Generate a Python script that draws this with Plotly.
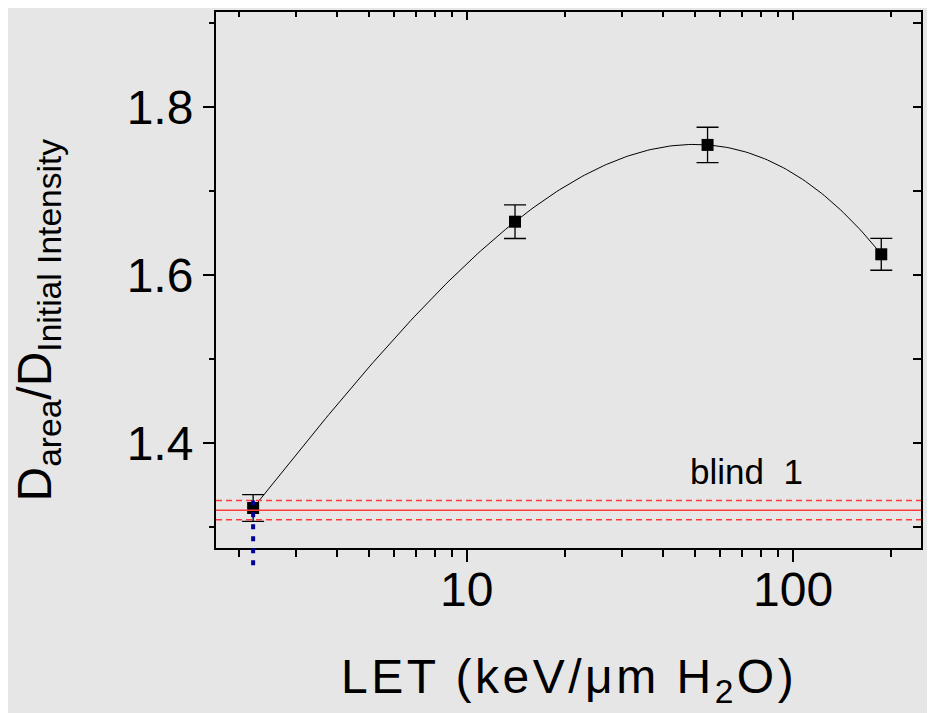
import numpy as np
import plotly.graph_objects as go

# measured points
let_vals = [2.21, 14.06, 54.8, 187.0]
ratio_vals = [1.3226, 1.6634, 1.7548, 1.6246]
ratio_err = [0.016, 0.020, 0.021, 0.019]

# blind reference level and its band
blind_level = 1.3200
blind_band = [1.3085, 1.3315]

x_major = [10, 100]
x_minor = [2, 3, 4, 5, 6, 7, 8, 9, 20, 30, 40, 50, 60, 70, 80, 90, 200]
y_major = [1.4, 1.6, 1.8]
y_minor = [1.3, 1.5, 1.7, 1.9]

x_range = [np.log10(1.70), np.log10(247.6)]
y_range = [1.275, 1.913]

FONT = "Liberation Sans, Arial, sans-serif"

# smooth curve: cubic in log10(LET) through the measured points
u = np.log10(let_vals)
coef = np.polyfit(u, ratio_vals, 3)
u_fine = np.linspace(u.min(), u.max(), 200)
x_fit = 10 ** u_fine
y_fit = np.polyval(coef, u_fine)

fig = go.Figure()

fig.add_trace(
    go.Scatter(
        x=x_fit,
        y=y_fit,
        mode="lines",
        line=dict(color="black", width=1),
        hoverinfo="skip",
        showlegend=False
    )
)

fig.add_trace(
    go.Scatter(
        x=let_vals,
        y=ratio_vals,
        mode="markers",
        marker=dict(symbol="square", size=12, color="black"),
        error_y=dict(
            type="data",
            array=ratio_err,
            color="black",
            thickness=1.3,
            width=11
        ),
        showlegend=False
    )
)

# dummy trace so the top/right axes are drawn
fig.add_trace(
    go.Scatter(
        x=[None],
        y=[None],
        xaxis="x2",
        yaxis="y2",
        showlegend=False,
        hoverinfo="skip"
    )
)

# blind level lines
fig.add_shape(
    type="line", xref="paper", yref="y", x0=0, x1=1,
    y0=blind_level, y1=blind_level,
    line=dict(color="#ff3a3a", width=1.5)
)
for yb in blind_band:
    fig.add_shape(
        type="line", xref="paper", yref="y", x0=0, x1=1,
        y0=yb, y1=yb,
        line=dict(color="#ff3a3a", width=1.5, dash="6px,4px")
    )

# blue dotted marker line from the first point down through the axis
top_paper = (ratio_vals[0] + 0.009 - y_range[0]) / (y_range[1] - y_range[0])
fig.add_shape(
    type="line", xref="x", yref="paper",
    x0=let_vals[0], x1=let_vals[0], y0=-0.032, y1=top_paper,
    line=dict(color="#000099", width=4, dash="5px,7px")
)

fig.add_annotation(
    text="blind\u00a0\u00a01",
    x=np.log10(let_vals[3]) - 0.415, y=1.366,
    xref="x", yref="y",
    showarrow=False,
    font=dict(size=35, color="black", family=FONT),
    xanchor="center", yanchor="middle"
)

# x tick labels, placed by hand-tuned offset under the axis
for v in x_major:
    fig.add_annotation(
        text=str(v),
        x=np.log10(v), y=-0.0774,
        xref="x", yref="paper",
        showarrow=False,
        font=dict(size=48, color="black", family=FONT),
        xanchor="center", yanchor="middle"
    )

fig.add_annotation(
    text="D<sub>area</sub>/D<sub>Initial Intensity</sub>",
    x=-0.252, y=0.425,
    xref="paper", yref="paper",
    textangle=-90,
    showarrow=False,
    font=dict(size=48, color="black", family=FONT),
    xanchor="center", yanchor="middle"
)

fig.add_annotation(
    text="<span style='letter-spacing:3.5px'>LET (keV/\u03bcm H<sub>2</sub>O)</span>",
    x=0.5, y=-0.186,
    xref="paper", yref="paper",
    showarrow=False,
    font=dict(size=48, color="black", family=FONT),
    xanchor="center", yanchor="top"
)

axis_common = dict(
    showgrid=False,
    zeroline=False,
    linecolor="black",
    linewidth=2,
    tickcolor="black",
    tickwidth=2,
    tickfont=dict(size=48, color="black", family=FONT)
)

# the page body adds an 8px margin, so the figure is 8px smaller than the window
fig.update_layout(
    width=927,
    height=705,
    margin=dict(l=208, r=14, t=4, b=165),
    paper_bgcolor="#e6e6e6",
    plot_bgcolor="#e6e6e6",
    font=dict(family=FONT, color="black"),
    showlegend=False,
    xaxis=dict(
        axis_common,
        type="log",
        range=x_range,
        showline=True,
        tickmode="array",
        tickvals=x_major,
        showticklabels=False,
        ticks="outside",
        ticklen=12,
        minor=dict(tickmode="array", tickvals=x_minor, ticks="outside",
                   ticklen=7, tickwidth=2, tickcolor="black", showgrid=False)
    ),
    yaxis=dict(
        axis_common,
        range=y_range,
        showline=True,
        tickmode="array",
        tickvals=y_major,
        ticktext=[f"{v:.1f}" for v in y_major],
        ticks="outside",
        ticklen=11,
        minor=dict(tickmode="array", tickvals=y_minor, ticks="outside",
                   ticklen=5, tickwidth=2, tickcolor="black", showgrid=False)
    ),
    xaxis2=dict(
        axis_common,
        type="log",
        range=x_range,
        overlaying="x",
        side="top",
        showline=True,
        tickmode="array",
        tickvals=x_major,
        showticklabels=False,
        ticks="inside",
        ticklen=8,
        minor=dict(tickmode="array", tickvals=x_minor, ticks="inside",
                   ticklen=5, tickwidth=2, tickcolor="black", showgrid=False)
    ),
    yaxis2=dict(
        axis_common,
        range=y_range,
        overlaying="y",
        side="right",
        showline=True,
        tickmode="array",
        tickvals=y_major + y_minor,
        showticklabels=False,
        ticks="inside",
        ticklen=8
    )
)

fig.write_html("out.html")
